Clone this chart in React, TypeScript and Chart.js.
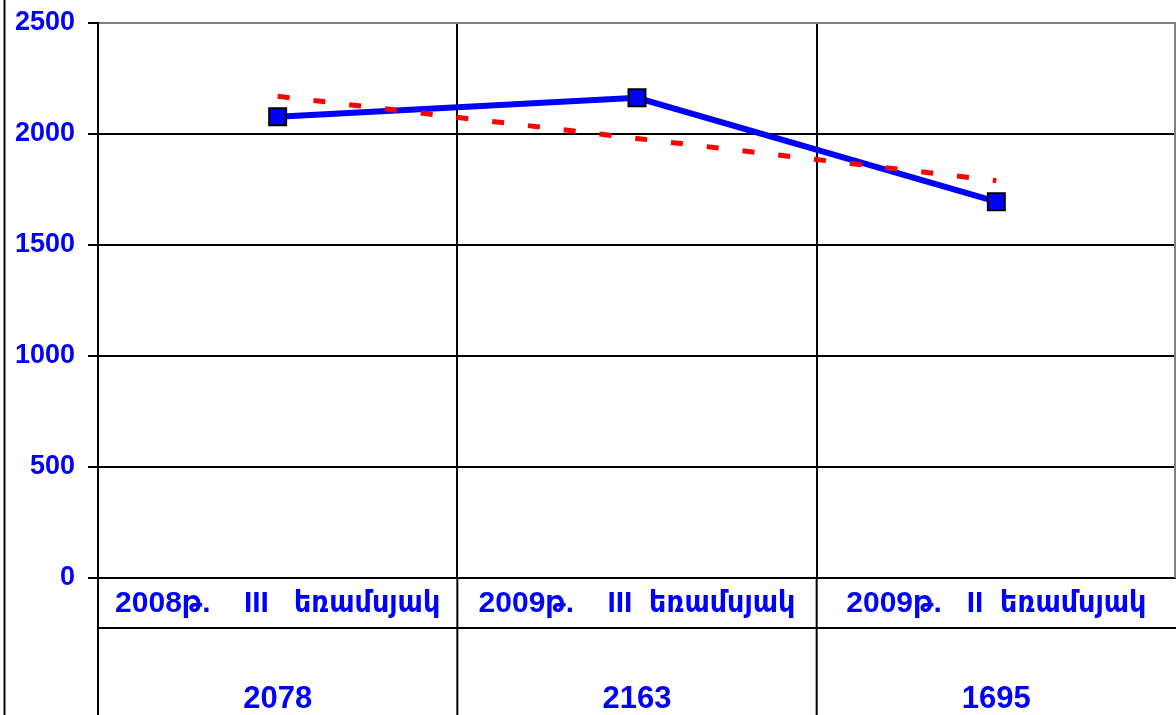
import React, { useEffect, useRef } from "react";
import { Chart, registerables } from "chart.js";

Chart.register(...registerables);

const categories = [
  "2008թ.    III   եռամսյակ",
  "2009թ.    III  եռամսյակ",
  "2009թ.   II  եռամսյակ",
];
const values = [2078, 2163, 1695];
const trendValues = [2170, 1980, 1790];
const yTicksMin = 0;
const yTicksMax = 2500;
const yTickStep = 500;

const FONT = '"Liberation Sans", Arial, "DejaVu Sans Condensed", "DejaVu Sans", sans-serif';
const BLUE = "#0000FF";

const tablePlugin = {
  id: "dataTable",
  afterDraw(chart: any) {
    const ctx = chart.ctx;
    const area = chart.chartArea;
    const x = chart.scales.x;
    const H = chart.height;
    const W = chart.width;
    const n = categories.length;
    const cw = (area.right - area.left) / n;
    const rowLineY = 628;
    ctx.save();
    ctx.strokeStyle = "#000";
    ctx.lineWidth = 2;
    // outer left line
    ctx.beginPath();
    ctx.moveTo(4.5, 0);
    ctx.lineTo(4.5, H);
    ctx.stroke();
    // vertical table lines
    for (let i = 0; i < n; i++) {
      const bx = x.getPixelForValue(i) - cw / 2;
      ctx.beginPath();
      ctx.moveTo(bx, area.bottom);
      ctx.lineTo(bx, H);
      ctx.stroke();
    }
    // row separator
    ctx.beginPath();
    ctx.moveTo(area.left, rowLineY);
    ctx.lineTo(W, rowLineY);
    ctx.stroke();
    // plot area gray border (top, right)
    ctx.strokeStyle = "#808080";
    ctx.beginPath();
    ctx.moveTo(area.left + 1, area.top);
    ctx.lineTo(W, area.top);
    ctx.moveTo(W - 1, area.top);
    ctx.lineTo(W - 1, area.bottom);
    ctx.stroke();
    // texts
    ctx.fillStyle = BLUE;
    ctx.textAlign = "center";
    ctx.textBaseline = "alphabetic";
    for (let i = 0; i < n; i++) {
      const cx = x.getPixelForValue(i);
      ctx.font = `bold 30px ${FONT}`;
      ctx.fillText(categories[i], cx, 612);
      ctx.font = `bold 31px ${FONT}`;
      ctx.fillText(String(values[i]), cx, 708);
    }
    ctx.restore();
  },
};

export default function App() {
  const ref = useRef<HTMLCanvasElement | null>(null);
  useEffect(() => {
    document.body.style.margin = "0";
    const canvas = ref.current!;
    const chart = new Chart(canvas, {
      type: "line",
      data: {
        labels: categories,
        datasets: [
          {
            label: "trend",
            data: trendValues,
            borderColor: "#FF0000",
            borderWidth: 5,
            borderDash: [12, 24],
            borderCapStyle: "butt",
            pointRadius: 0,
            fill: false,
            tension: 0,
          },
          {
            label: "values",
            data: values,
            borderColor: BLUE,
            borderWidth: 6,
            pointStyle: "rect",
            pointRadius: 12,
            pointBackgroundColor: BLUE,
            pointBorderColor: "#000",
            pointBorderWidth: 2,
            fill: false,
            tension: 0,
          },
        ],
      },
      options: {
        responsive: false,
        animation: false,
        layout: { autoPadding: false, padding: { top: 23, right: 0, left: 0, bottom: 0 } },
        plugins: {
          legend: { display: false },
          tooltip: { enabled: false },
          title: { display: false },
        },
        scales: {
          x: {
            type: "category",
            offset: true,
            ticks: { display: false },
            grid: {
              offset: true,
              color: "#000",
              lineWidth: 2,
              drawTicks: false,
            },
            border: { display: false },
            afterFit: (s: any) => {
              s.height = 137;
              s.paddingLeft = 0;
              s.paddingRight = 0;
            },
          },
          y: {
            min: yTicksMin,
            max: yTicksMax,
            ticks: {
              stepSize: yTickStep,
              color: BLUE,
              padding: 13,
              font: { family: FONT, size: 27, weight: "bold", lineHeight: 1 },
              callback: (v: any) => String(v),
            },
            grid: { color: "#000", lineWidth: 2, tickLength: 10 },
            border: { display: true, color: "#000", width: 2 },
            afterFit: (s: any) => {
              s.width = 98;
              s.paddingTop = 0;
              s.paddingBottom = 0;
            },
          },
        },
      },
      plugins: [tablePlugin],
    });
    return () => chart.destroy();
  }, []);
  return (
    <div style={{ position: "fixed", left: 0, top: 0, width: 1176, height: 715, background: "#fff" }}>
      <canvas ref={ref} width={1176} height={715} />
    </div>
  );
}
